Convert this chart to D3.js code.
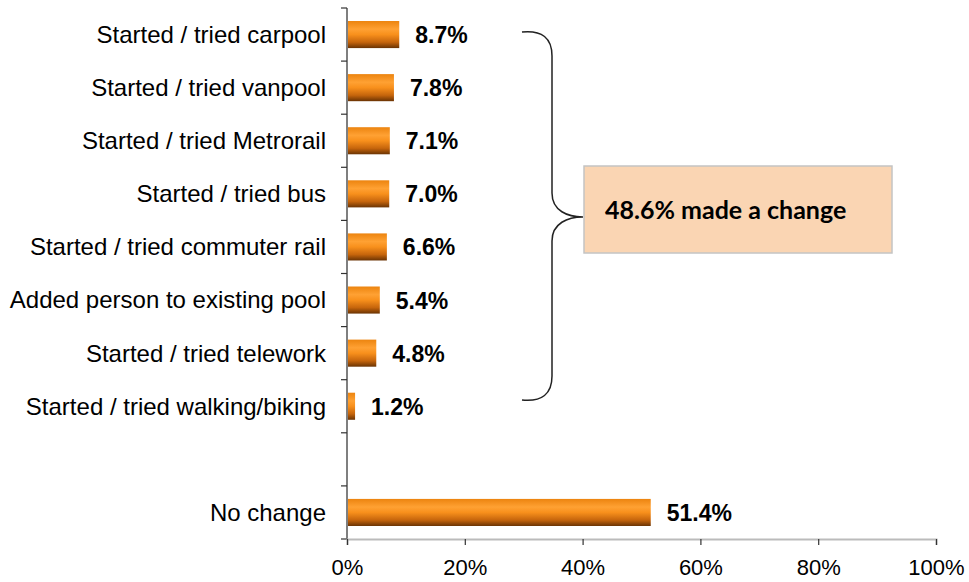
<!DOCTYPE html>
<html>
<head>
<meta charset="utf-8">
<script src="https://cdn.jsdelivr.net/npm/d3@7"></script>
<style>
  body { margin: 0; background: #fff; }
  svg text { font-family: "Liberation Sans", Arial, sans-serif; }
</style>
</head>
<body>
<div id="chart"></div>
<script>
// data
const categories = [
    "Started / tried carpool",
    "Started / tried vanpool",
    "Started / tried Metrorail",
    "Started / tried bus",
    "Started / tried commuter rail",
    "Added person to existing pool",
    "Started / tried telework",
    "Started / tried walking/biking",
    "",
    "No change"
];
const values = [8.7, 7.8, 7.1, 7.0, 6.6, 5.4, 4.8, 1.2, null, 51.4];
const xTicks = [0, 20, 40, 60, 80, 100];
const calloutText = "48.6% made a change";

const W = 969, H = 582;
const m = {left: 347, right: 33, top: 8, bottom: 43};

const svg = d3.select("#chart").append("svg")
    .attr("width", W)
    .attr("height", H);

// bar gradient
const grad = svg.append("defs").append("linearGradient")
    .attr("id", "barGrad")
    .attr("x1", 0).attr("y1", 0).attr("x2", 0).attr("y2", 1);
[["0%", "#ec840f"], ["30%", "#ffa133"], ["50%", "#f8901c"], ["78%", "#c6650c"], ["100%", "#6a3303"]]
    .forEach(s => grad.append("stop").attr("offset", s[0]).attr("stop-color", s[1]));

const x = d3.scaleLinear()
    .domain([0, 100])
    .range([m.left, W - m.right]);

const y = d3.scaleBand()
    .domain(d3.range(categories.length))
    .range([m.top, H - m.bottom])
    .paddingInner(0.49)
    .paddingOuter(0.245);

// y axis line + ticks between categories
const yTop = m.top, yBot = H - m.bottom;
svg.append("line")
    .attr("x1", m.left).attr("x2", m.left)
    .attr("y1", yTop).attr("y2", yBot)
    .attr("stroke", "#555").attr("stroke-width", 1.5);

const step = (yBot - yTop) / categories.length;
d3.range(categories.length + 1).forEach(i => {
    svg.append("line")
        .attr("x1", m.left - 6).attr("x2", m.left)
        .attr("y1", yTop + i * step).attr("y2", yTop + i * step)
        .attr("stroke", "#333").attr("stroke-width", 1.2);
});

// x axis
const xAxis = svg.append("g")
    .attr("transform", "translate(0," + yBot + ")")
    .call(d3.axisBottom(x).tickValues(xTicks).tickSize(6).tickFormat(d => d + "%"));
xAxis.select(".domain").attr("stroke", "#bbb").attr("stroke-width", 2);
xAxis.selectAll(".tick line").attr("stroke", "#333").attr("stroke-width", 1.2);
xAxis.selectAll(".tick text")
    .attr("font-family", "'Liberation Sans', Arial, sans-serif")
    .attr("font-size", 22)
    .attr("fill", "#000")
    .attr("y", 36)
    .attr("dy", 0);

// category labels
svg.selectAll(".cat")
    .data(categories)
    .enter()
    .append("text")
    .attr("class", "cat")
    .attr("x", m.left - 21)
    .attr("y", (d, i) => y(i) + y.bandwidth() / 2)
    .attr("dy", "0.35em")
    .attr("text-anchor", "end")
    .attr("font-size", 24)
    .attr("fill", "#000")
    .text(d => d);

const barData = values.map((v, i) => ({i: i, v: v})).filter(d => d.v !== null);

// bars
svg.selectAll(".bar")
    .data(barData)
    .enter()
    .append("rect")
    .attr("class", "bar")
    .attr("x", x(0) + 1)
    .attr("y", d => y(d.i))
    .attr("width", d => x(d.v) - x(0))
    .attr("height", y.bandwidth())
    .attr("fill", "url(#barGrad)");

// value labels
svg.selectAll(".val")
    .data(barData)
    .enter()
    .append("text")
    .attr("class", "val")
    .attr("x", d => x(d.v) + 17)
    .attr("y", d => y(d.i) + y.bandwidth() / 2)
    .attr("dy", "0.37em")
    .attr("font-size", 23)
    .attr("font-weight", "bold")
    .attr("fill", "#000")
    .text(d => d.v.toFixed(1) + "%");

// brace spanning the first eight rows
const bTop = 32;
const bBot = 400;
const bMid = 217;
const bx = 552, r = 14;
const brace = d3.path();
brace.moveTo(bx - 30, bTop);
brace.bezierCurveTo(bx - 10, bTop - 2, bx, bTop + 6, bx, bTop + r + 10);
brace.lineTo(bx, bMid - r - 10);
brace.bezierCurveTo(bx, bMid - 6, bx + 16, bMid, bx + 31, bMid);
brace.bezierCurveTo(bx + 16, bMid, bx, bMid + 6, bx, bMid + r + 10);
brace.lineTo(bx, bBot - r - 10);
brace.bezierCurveTo(bx, bBot - 6, bx - 10, bBot + 2, bx - 30, bBot);
svg.append("path")
    .attr("d", brace.toString())
    .attr("fill", "none")
    .attr("stroke", "#222")
    .attr("stroke-width", 1.5);

// callout box
svg.append("rect")
    .attr("x", 584).attr("y", 166)
    .attr("width", 308).attr("height", 87)
    .attr("fill", "#fad5b3")
    .attr("stroke", "#c4c4c4")
    .attr("stroke-width", 1.5);
svg.append("text")
    .attr("x", 605).attr("y", 219)
    .style("font-family", "Lato, 'Open Sans', sans-serif")
    .attr("font-size", 25)
    .attr("font-weight", "bold")
    .attr("fill", "#000")
    .text(calloutText);
</script>
</body>
</html>
